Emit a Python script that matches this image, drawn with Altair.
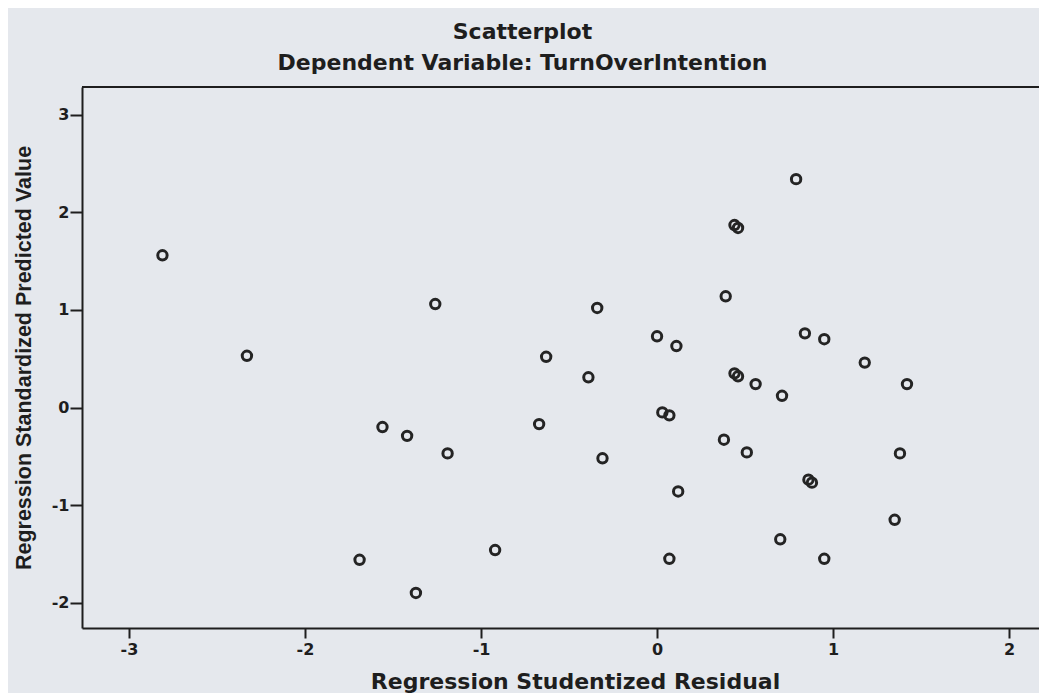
import altair as alt
import pandas as pd

# Regression Studentized Residual (x) and Regression Standardized Predicted Value (y)
resid = [-2.81, -2.33, -1.26, -0.63, -0.34, -0.39, 0.00, 0.11, 0.39, 0.44,
         0.46, 0.79, 0.84, 0.95, 1.18, 1.42, 0.44, 0.46, 0.56, 0.71,
         0.03, 0.07, -1.56, -1.42, -1.19, -0.67, -0.31, 0.38, 0.51, 0.86,
         0.88, 1.38, 0.12, 1.35, 0.70, -0.92, -1.69, 0.07, 0.95, -1.37]
pred = [1.56, 0.53, 1.06, 0.52, 1.02, 0.31, 0.73, 0.63, 1.14, 1.87,
        1.84, 2.34, 0.76, 0.70, 0.46, 0.24, 0.35, 0.32, 0.24, 0.12,
        -0.05, -0.08, -0.20, -0.29, -0.47, -0.17, -0.52, -0.33, -0.46, -0.74,
        -0.77, -0.47, -0.86, -1.15, -1.35, -1.46, -1.56, -1.55, -1.55, -1.90]

x_ticks = [-3, -2, -1, 0, 1, 2]
y_ticks = [-2, -1, 0, 1, 2, 3]

df = pd.DataFrame({"resid": resid, "pred": pred})

W = 957
H = 541
WIDE = "DejaVu Sans"
NARROW = "Liberation Sans"
INK = "#1e1e1e"

points = alt.Chart(df).mark_point(
    shape="circle", filled=False, size=88, strokeWidth=3, color="#242424", opacity=1
).encode(
    x=alt.X("resid:Q",
            scale=alt.Scale(domain=[-3.267, 2.170], nice=False, zero=False),
            axis=alt.Axis(values=x_ticks, labelExpr="'' + datum.value",
                          title="Regression Studentized Residual", titleX=493,
                          tickSize=10, tickWidth=2, domainWidth=2, labelPadding=3,
                          labelFontSize=16, labelFontWeight="bold", titleFontSize=22,
                          titleFontWeight="bold", titlePadding=14, grid=False,
                          domainColor=INK, tickColor=INK, labelColor=INK, titleColor=INK,
                          labelFont=WIDE, titleFont=WIDE)),
    y=alt.Y("pred:Q",
            scale=alt.Scale(domain=[-2.259, 3.284], nice=False, zero=False),
            axis=alt.Axis(values=y_ticks, labelExpr="'' + datum.value",
                          title="Regression Standardized Predicted Value",
                          tickSize=12, tickWidth=2, domainWidth=2, labelPadding=1,
                          labelFontSize=16, labelFontWeight="bold", titleFontSize=21.5,
                          titleFontWeight="bold", titlePadding=16, grid=False,
                          domainColor=INK, tickColor=INK, labelColor=INK, titleColor=INK,
                          labelFont=WIDE, titleFont=NARROW)),
)

top_border = alt.Chart(df).mark_rule(color=INK, strokeWidth=2).encode(
    x=alt.value(0), x2=alt.value(W), y=alt.value(0)
)

chart = alt.layer(top_border, points).properties(
    width=W, height=H,
    title=alt.TitleParams(
        text="Scatterplot",
        subtitle="Dependent Variable: TurnOverIntention",
        font=WIDE, fontSize=22, fontWeight="bold", color=INK,
        subtitleFont=WIDE, subtitleFontSize=22, subtitleFontWeight="bold", subtitleColor=INK,
        subtitlePadding=9, anchor="middle", offset=11, dx=-38,
    ),
    background="#e5e8ed",
    padding={"left": 74, "top": 79, "right": 0, "bottom": 65},
    autosize=alt.AutoSizeParams(type="none"),
).configure_view(stroke=None)

chart.save("out.html", embed_options={"renderer": "svg", "actions": False})
